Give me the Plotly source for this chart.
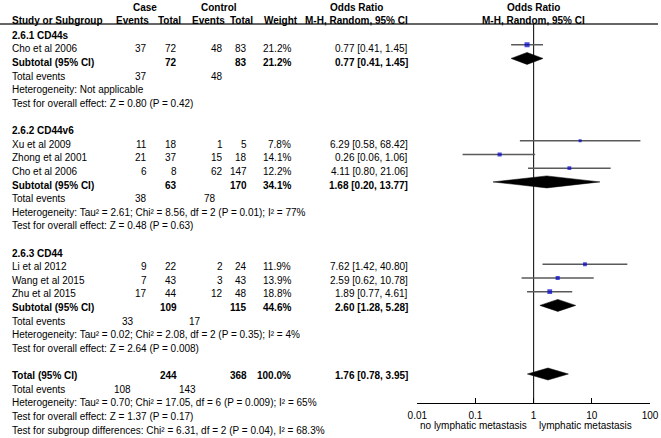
import plotly.graph_objects as go

FONT = "Liberation Sans, Arial, sans-serif"

# ---------------- data ----------------
group_titles = ["2.6.1 CD44s", "2.6.2 CD44v6", "2.6.3 CD44"]
study_names = [["Cho et al 2006"],
               ["Xu et al 2009", "Zhong et al 2001", "Cho et al 2006"],
               ["Li et al 2012", "Wang et al 2015", "Zhu et al 2015"]]
case_events = [[37], [11, 21, 6], [9, 7, 17]]
case_total = [[72], [18, 37, 8], [22, 43, 44]]
ctrl_events = [[48], [1, 15, 62], [2, 3, 12]]
ctrl_total = [[83], [5, 18, 147], [24, 43, 48]]
weights = [[21.2], [7.8, 14.1, 12.2], [11.9, 13.9, 18.8]]
odds = [[0.77], [6.29, 0.26, 4.11], [7.62, 2.59, 1.89]]
ci_low = [[0.41], [0.58, 0.06, 0.80], [1.42, 0.62, 0.77]]
ci_high = [[1.45], [68.42, 1.06, 21.06], [40.80, 10.78, 4.61]]

sub_case_total = [72, 63, 109]
sub_ctrl_total = [83, 170, 115]
sub_weight = [21.2, 34.1, 44.6]
sub_or = [0.77, 1.68, 2.60]
sub_low = [0.41, 0.20, 1.28]
sub_high = [1.45, 13.77, 5.28]
sub_events_case = [37, 38, 33]
sub_events_ctrl = [48, 78, 17]
sub_het = ["Heterogeneity: Not applicable",
           "Heterogeneity: Tau² = 2.61; Chi² = 8.56, df = 2 (P = 0.01); I² = 77%",
           "Heterogeneity: Tau² = 0.02; Chi² = 2.08, df = 2 (P = 0.35); I² = 4%"]
sub_test = ["Test for overall effect: Z = 0.80 (P = 0.42)",
            "Test for overall effect: Z = 0.48 (P = 0.63)",
            "Test for overall effect: Z = 2.64 (P = 0.008)"]

total_case = 244
total_ctrl = 368
total_weight = 100.0
total_or = 1.76
total_low = 0.78
total_high = 3.95
total_events_case = 108
total_events_ctrl = 143
total_het = "Heterogeneity: Tau² = 0.70; Chi² = 17.05, df = 6 (P = 0.009); I² = 65%"
total_test = "Test for overall effect: Z = 1.37 (P = 0.17)"
subgroup_test = "Test for subgroup differences: Chi² = 6.31, df = 2 (P = 0.04), I² = 68.3%"

tick_vals = [0.01, 0.1, 1, 10, 100]
tick_text = ["0.01", "0.1", "1", "10", "100"]
left_label = "no lymphatic metastasis"
right_label = "lymphatic metastasis"

# ---------------- layout constants (pixels) ----------------
W, H = 661, 438
ROW0, STEP = 35.2, 13.62      # text rows
MK0, MKSTEP = 31.0, 13.72     # marker rows
HDR1_Y, HDR2_Y = 7, 20
X_NAME = 10
X_CE, X_CT, X_KE, X_KT, X_W, X_CI = 149, 179, 225, 249, 293, 410
TE_CASE_X = [149, 149, 136, 133]
TE_CTRL_X = [225, 218, 203, 198]
AX_L, AX_R = 417.3, 650.0
AX_Y = 403
HDR_LINE_Y = 24
DIA_H = 6.0


def ry(r):
    return ROW0 + STEP * r


def my(r):
    return MK0 + MKSTEP * r


ann = []


def txt(x, y, s, anchor="left", bold=False):
    ann.append(dict(x=x, y=y, xref="x", yref="y",
                    text=f"<b>{s}</b>" if bold else s,
                    showarrow=False, xanchor=anchor, yanchor="middle",
                    font=dict(family=FONT, size=10, color="black")))


def ci_str(o, l, h):
    return f"{o:.2f} [{l:.2f}, {h:.2f}]"


fig = go.Figure()

# headers
txt(145, HDR1_Y, "Case", "center", True)
txt(219, HDR1_Y, "Control", "center", True)
txt(356, HDR1_Y, "Odds Ratio", "center", True)
txt(533.5, HDR1_Y, "Odds Ratio", "center", True)
txt(X_NAME, HDR2_Y, "Study or Subgroup", "left", True)
txt(132.5, HDR2_Y, "Events", "center", True)
txt(169, HDR2_Y, "Total", "center", True)
txt(208, HDR2_Y, "Events", "center", True)
txt(241, HDR2_Y, "Total", "center", True)
txt(281, HDR2_Y, "Weight", "center", True)
txt(356, HDR2_Y, "M-H, Random, 95% CI", "center", True)
txt(533.5, HDR2_Y, "M-H, Random, 95% CI", "center", True)

fig.add_trace(go.Scatter(x=[0, 658], y=[HDR_LINE_Y, HDR_LINE_Y], mode="lines",
                         line=dict(color="#333333", width=1.5), xaxis="x", yaxis="y",
                         hoverinfo="skip", showlegend=False))

# vertical line of no effect
fig.add_trace(go.Scatter(x=[1, 1], y=[HDR_LINE_Y, AX_Y], mode="lines",
                         line=dict(color="black", width=1), xaxis="x2", yaxis="y",
                         hoverinfo="skip", showlegend=False))

sq_x, sq_y, sq_s = [], [], []


def diamond(o, l, h, yy):
    fig.add_trace(go.Scatter(x=[l, o, h, o, l], y=[yy, yy - DIA_H, yy, yy + DIA_H, yy],
                             mode="lines", fill="toself", fillcolor="black",
                             line=dict(color="black", width=0.5), xaxis="x2", yaxis="y",
                             hoverinfo="skip", showlegend=False))


r = 0
for g in range(3):
    txt(X_NAME, ry(r), group_titles[g], "left", True)
    r += 1
    for i, name in enumerate(study_names[g]):
        y = ry(r)
        txt(X_NAME, y, name)
        txt(X_CE, y, str(case_events[g][i]), "right")
        txt(X_CT, y, str(case_total[g][i]), "right")
        txt(X_KE, y, str(ctrl_events[g][i]), "right")
        txt(X_KT, y, str(ctrl_total[g][i]), "right")
        txt(X_W, y, f"{weights[g][i]:.1f}%", "right")
        txt(X_CI, y, ci_str(odds[g][i], ci_low[g][i], ci_high[g][i]), "right")
        fig.add_trace(go.Scatter(x=[ci_low[g][i], ci_high[g][i]], y=[my(r), my(r)],
                                 mode="lines", line=dict(color="#5a5a5a", width=1.5),
                                 xaxis="x2", yaxis="y", hoverinfo="skip", showlegend=False))
        sq_x.append(odds[g][i])
        sq_y.append(my(r))
        sq_s.append(1.1 * weights[g][i] ** 0.5)
        r += 1
    y = ry(r)
    txt(X_NAME, y, "Subtotal (95% CI)", "left", True)
    txt(X_CT, y, str(sub_case_total[g]), "right", True)
    txt(X_KT, y, str(sub_ctrl_total[g]), "right", True)
    txt(X_W, y, f"{sub_weight[g]:.1f}%", "right", True)
    txt(X_CI, y, ci_str(sub_or[g], sub_low[g], sub_high[g]), "right", True)
    diamond(sub_or[g], sub_low[g], sub_high[g], my(r))
    r += 1
    y = ry(r)
    txt(X_NAME, y, "Total events")
    txt(TE_CASE_X[g], y, str(sub_events_case[g]), "right")
    txt(TE_CTRL_X[g], y, str(sub_events_ctrl[g]), "right")
    r += 1
    txt(X_NAME, ry(r), sub_het[g])
    r += 1
    txt(X_NAME, ry(r), sub_test[g])
    r += 2

y = ry(r)
txt(X_NAME, y, "Total (95% CI)", "left", True)
txt(X_CT, y, str(total_case), "right", True)
txt(X_KT, y, str(total_ctrl), "right", True)
txt(X_W, y, f"{total_weight:.1f}%", "right", True)
txt(X_CI, y, ci_str(total_or, total_low, total_high), "right", True)
diamond(total_or, total_low, total_high, my(r))
r += 1
y = ry(r)
txt(X_NAME, y, "Total events")
txt(TE_CASE_X[3], y, str(total_events_case), "right")
txt(TE_CTRL_X[3], y, str(total_events_ctrl), "right")
r += 1
txt(X_NAME, ry(r), total_het)
r += 1
txt(X_NAME, ry(r), total_test)
r += 1
txt(X_NAME, ry(r), subgroup_test)

fig.add_trace(go.Scatter(x=sq_x, y=sq_y, mode="markers",
                         marker=dict(symbol="square", size=sq_s, color="#0000CC",
                                     line=dict(width=0)),
                         xaxis="x2", yaxis="y", hoverinfo="skip", showlegend=False))

txt(529, 425, left_label, "right")
txt(537, 425, right_label, "left")

fig.update_layout(
    width=W, height=H, autosize=False,
    margin=dict(l=0, r=0, t=0, b=0, pad=0, autoexpand=False),
    paper_bgcolor="white", plot_bgcolor="rgba(0,0,0,0)", showlegend=False,
    xaxis=dict(range=[0, W], domain=[0, 1], visible=False, fixedrange=True),
    xaxis2=dict(type="log", range=[-2, 2], domain=[AX_L / W, AX_R / W],
                anchor="free", position=(H - AX_Y) / H,
                showline=True, linecolor="black", linewidth=1,
                ticks="inside", ticklen=5, tickwidth=1, tickcolor="black",
                tickvals=tick_vals, ticktext=tick_text,
                ticklabeloverflow="allow", ticklabelstandoff=3,
                tickfont=dict(family=FONT, size=10, color="black"),
                showgrid=False, zeroline=False, fixedrange=True),
    yaxis=dict(range=[H, 0], domain=[0, 1], visible=False, fixedrange=True),
    annotations=ann,
)

post = ("document.documentElement.style.overflow='hidden';"
        "document.body.style.margin='0px';"
        "document.body.style.overflow='hidden';")

fig.write_html("out.html", config={"displayModeBar": False, "responsive": False},
               default_width="661px", default_height="438px", post_script=post)
